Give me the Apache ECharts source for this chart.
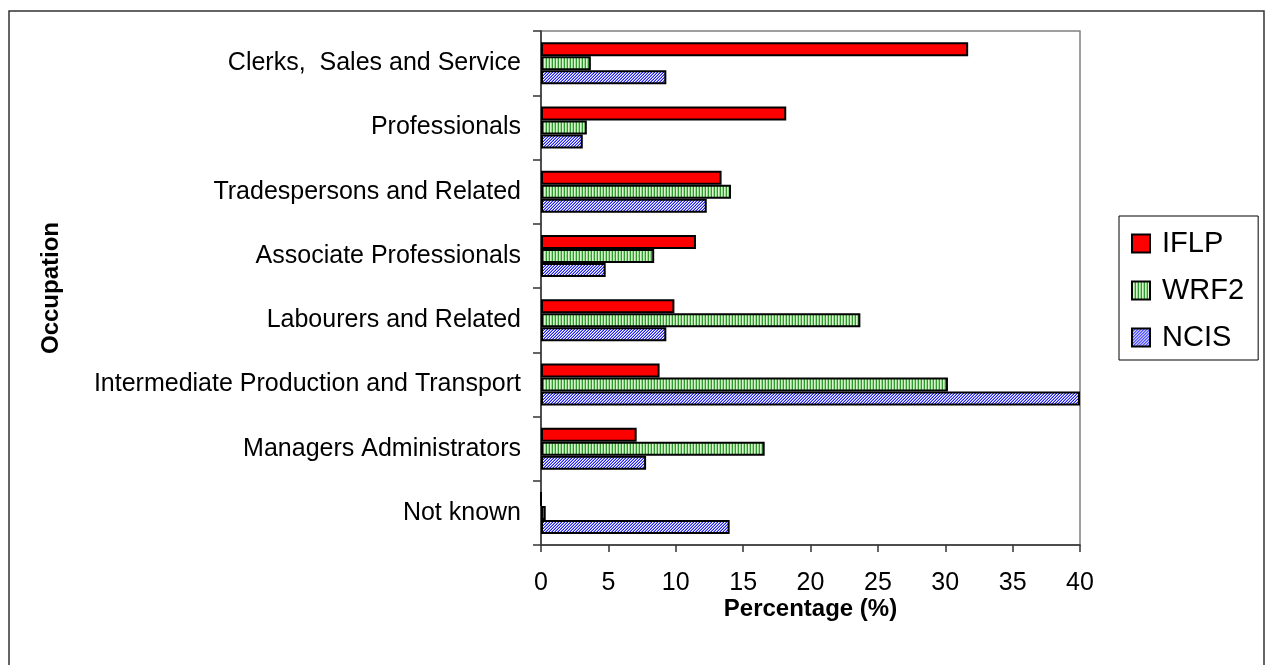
<!DOCTYPE html>
<html>
<head>
<meta charset="utf-8">
<script src="https://cdn.jsdelivr.net/npm/echarts@6/dist/echarts.min.js"></script>
<style>html,body{margin:0;padding:0;background:#fff}#c{width:1271px;height:665px}</style>
</head>
<body>
<div id="c"></div>
<script>
const categories = ['Clerks,  Sales and Service', 'Professionals', 'Tradespersons and Related', 'Associate Professionals', 'Labourers and Related', 'Intermediate Production and Transport', 'Managers Administrators', 'Not known'];
const seriesNames = ['IFLP', 'WRF2', 'NCIS'];
const iflp = [31.7, 18.2, 13.4, 11.5, 9.9, 8.8, 7.1, 0];
const wrf2 = [3.7, 3.4, 14.1, 8.4, 23.7, 30.2, 16.6, 0.35];
const ncis = [9.3, 3.1, 12.3, 4.8, 9.3, 40, 7.8, 14.0];
const xTicks = {min: 0, max: 40, interval: 5};

function makePattern(w, h, fn) {
  const c = document.createElement('canvas');
  c.width = w; c.height = h;
  const ctx = c.getContext('2d');
  for (let x = 0; x < w; x++) for (let y = 0; y < h; y++) {
    ctx.fillStyle = fn(x, y);
    ctx.fillRect(x, y, 1, 1);
  }
  return {image: c, repeat: 'repeat'};
}
const greenPat = makePattern(3, 1, (x) => x === 0 ? '#2f9a2f' : (x === 1 ? '#d8f5d0' : '#9ad98f'));
const bluePat = makePattern(3, 3, (x, y) => ((x + y) % 3 === 0) ? '#1c1cff' : ((x + y) % 3 === 1 ? '#ffffff' : '#8f8fff'));

const fills = [{color: '#ff0000'}, {color: greenPat}, {color: bluePat}];
const data = [iflp, wrf2, ncis];
const font = 'Liberation Sans, Arial, sans-serif';

const chart = echarts.init(document.getElementById('c'), null, {renderer: 'canvas'});
chart.setOption({
  animation: false,
  backgroundColor: '#ffffff',
  textStyle: {fontFamily: font},
  graphic: [{
    type: 'rect', shape: {x: 9, y: 11, width: 1255, height: 700},
    style: {fill: 'none', stroke: '#333', lineWidth: 1.5}, silent: true
  }],
  grid: {left: 541, right: 191, top: 31, bottom: 120, show: true, borderColor: '#808080', borderWidth: 1.5},
  legend: {
    orient: 'vertical', left: 1119, top: 216,
    data: seriesNames,
    icon: 'rect',
    itemWidth: 18, itemHeight: 18, itemGap: 18,
    padding: [13, 14, 8, 12],
    borderColor: '#000', borderWidth: 1,
    itemStyle: {borderColor: '#000', borderWidth: 2},
    textStyle: {fontSize: 29, color: '#000', fontFamily: font, padding: [0, 0, 0, 7]}
  },
  xAxis: {
    type: 'value', min: xTicks.min, max: xTicks.max, interval: xTicks.interval,
    name: 'Percentage (%)', nameLocation: 'middle', nameGap: 52, nameMoveOverlap: false,
    nameTextStyle: {fontSize: 24, fontWeight: 'bold', color: '#000', fontFamily: font},
    axisLine: {show: true, lineStyle: {color: '#333', width: 1.5}},
    axisTick: {show: true, length: 7, lineStyle: {color: '#333', width: 1.5}},
    axisLabel: {fontSize: 25, color: '#000', margin: 26, fontFamily: font},
    splitLine: {show: false}
  },
  yAxis: {
    type: 'category', data: categories, inverse: true,
    name: 'Occupation', nameLocation: 'middle', nameGap: 478, nameRotate: 90, nameMoveOverlap: false,
    nameTextStyle: {fontSize: 24, fontWeight: 'bold', color: '#000', fontFamily: font},
    axisLine: {show: true, lineStyle: {color: '#333', width: 1.5}},
    axisTick: {show: true, length: 8, lineStyle: {color: '#333', width: 1.5}},
    axisLabel: {fontSize: 25, color: '#000', margin: 20, fontFamily: font},
    splitLine: {show: false}
  },
  series: seriesNames.map((n, i) => ({
    name: n, type: 'bar', data: data[i],
    barWidth: 14, barGap: '0%',
    itemStyle: {color: fills[i].color, borderColor: '#000', borderWidth: 2}
  }))
});
</script>
</body>
</html>
